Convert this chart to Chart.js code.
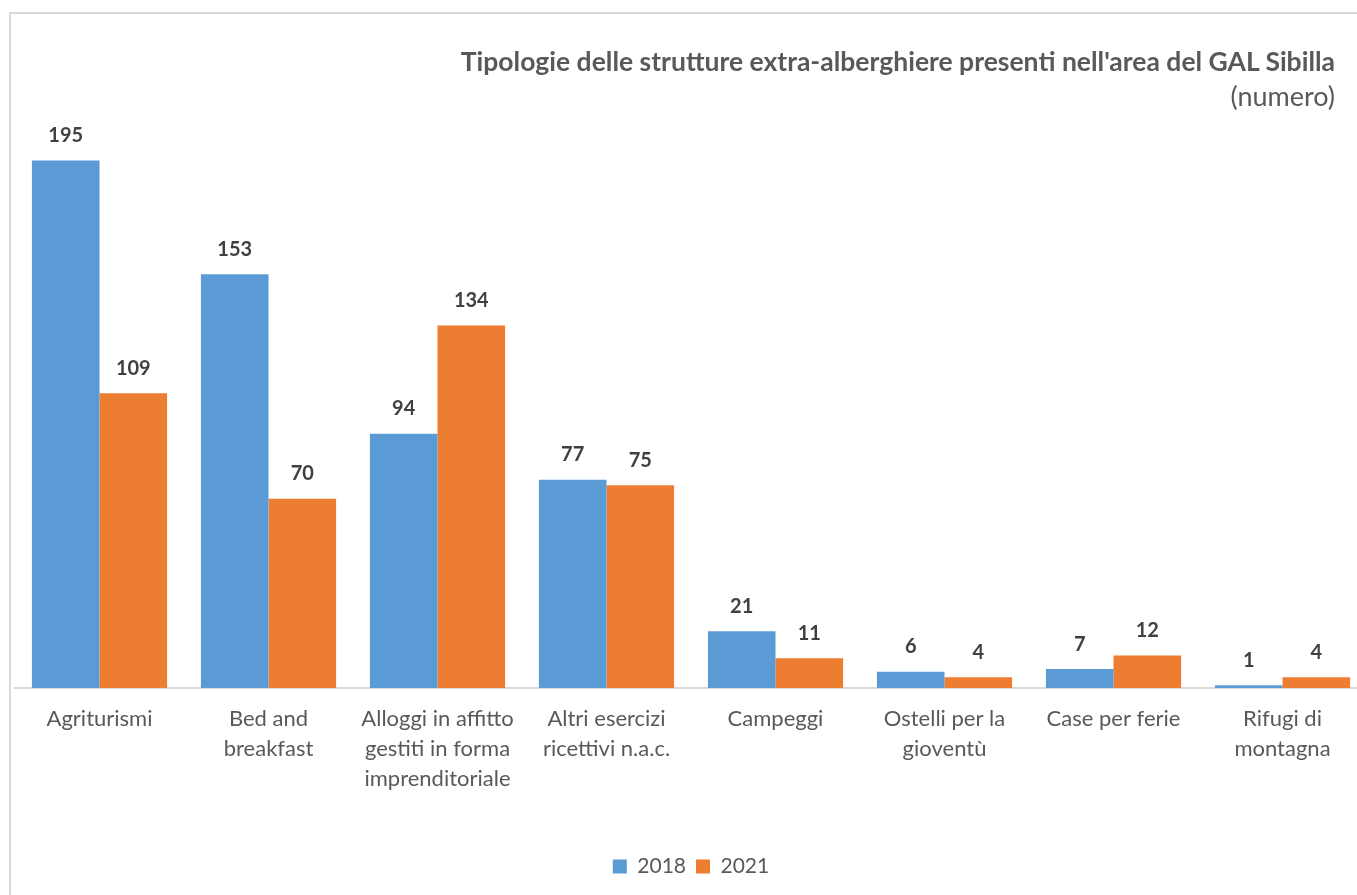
<!DOCTYPE html>
<html>
<head>
<meta charset="utf-8">
<script src="https://cdn.jsdelivr.net/npm/chart.js@4"></script>
<style>
  html, body { margin: 0; padding: 0; background: #fff; overflow: hidden; width: 1357px; height: 895px; }
  #frame { position: absolute; left: 9px; top: 12px; width: 1400px; height: 950px; border-left: 2px solid #d9d9d9; border-top: 2px solid #d9d9d9; }
  #wrap { position: absolute; left: 0; top: 0; width: 1385px; height: 895px; }
  #title { position: absolute; right: 22px; top: 46px; line-height: 1.2; font-family: Lato, sans-serif; font-weight: bold; font-size: 26.5px; color: #595959; white-space: nowrap; }
  #subtitle { position: absolute; right: 22px; top: 80px; line-height: 1.2; font-family: Lato, sans-serif; font-size: 27px; color: #595959; white-space: nowrap; }
</style>
</head>
<body>
<div id="frame"></div>
<div id="wrap"><canvas id="c" width="1385" height="895"></canvas></div>
<div id="title">Tipologie delle strutture extra-alberghiere presenti nell'area del GAL Sibilla</div>
<div id="subtitle">(numero)</div>
<script>
const categories = [
  "Agriturismi",
  ["Bed and", "breakfast"],
  ["Alloggi in affitto", "gestiti in forma", "imprenditoriale"],
  ["Altri esercizi", "ricettivi n.a.c."],
  "Campeggi",
  ["Ostelli per la", "gioventù"],
  "Case per ferie",
  ["Rifugi di", "montagna"]
];
const seriesNames = ["2018", "2021"];
const values2018 = [195, 153, 94, 77, 21, 6, 7, 1];
const values2021 = [109, 70, 134, 75, 11, 4, 12, 4];

const valueLabels = {
  id: 'valueLabels',
  afterDatasetsDraw(chart) {
    const ctx = chart.ctx;
    ctx.save();
    ctx.font = 'bold 20px Lato, sans-serif';
    ctx.fillStyle = '#404040';
    ctx.textAlign = 'center';
    ctx.textBaseline = 'middle';
    chart.data.datasets.forEach((ds, i) => {
      chart.getDatasetMeta(i).data.forEach((bar, j) => {
        ctx.fillText(String(ds.data[j]), bar.x, bar.y - 25);
      });
    });
    ctx.restore();
  }
};

new Chart(document.getElementById('c'), {
  type: 'bar',
  data: {
    labels: categories,
    datasets: [
      { label: seriesNames[0], data: values2018, backgroundColor: '#5B9BD5' },
      { label: seriesNames[1], data: values2021, backgroundColor: '#ED7D31' }
    ]
  },
  options: {
    responsive: false,
    animation: false,
    devicePixelRatio: 1,
    layout: { padding: { left: 15, right: 18, top: 147, bottom: 8 } },
    datasets: { bar: { categoryPercentage: 0.8, barPercentage: 1.0 } },
    scales: {
      y: { display: false, min: 0, max: 200 },
      x: {
        grid: { display: false, drawTicks: false },
        border: { display: true, color: '#d9d9d9', width: 2 },
        ticks: { color: '#595959', font: { family: 'Lato, sans-serif', size: 22, lineHeight: '30px' }, padding: 16, maxRotation: 0, autoSkip: false },
        afterFit(scale) { scale.height = 158; }
      }
    },
    plugins: {
      legend: {
        position: 'bottom',
        labels: { boxWidth: 14, boxHeight: 14, color: '#595959', font: { family: 'Lato, sans-serif', size: 21 }, padding: 10 }
      },
      tooltip: { enabled: false }
    }
  },
  plugins: [valueLabels]
});
</script>
</body>
</html>
